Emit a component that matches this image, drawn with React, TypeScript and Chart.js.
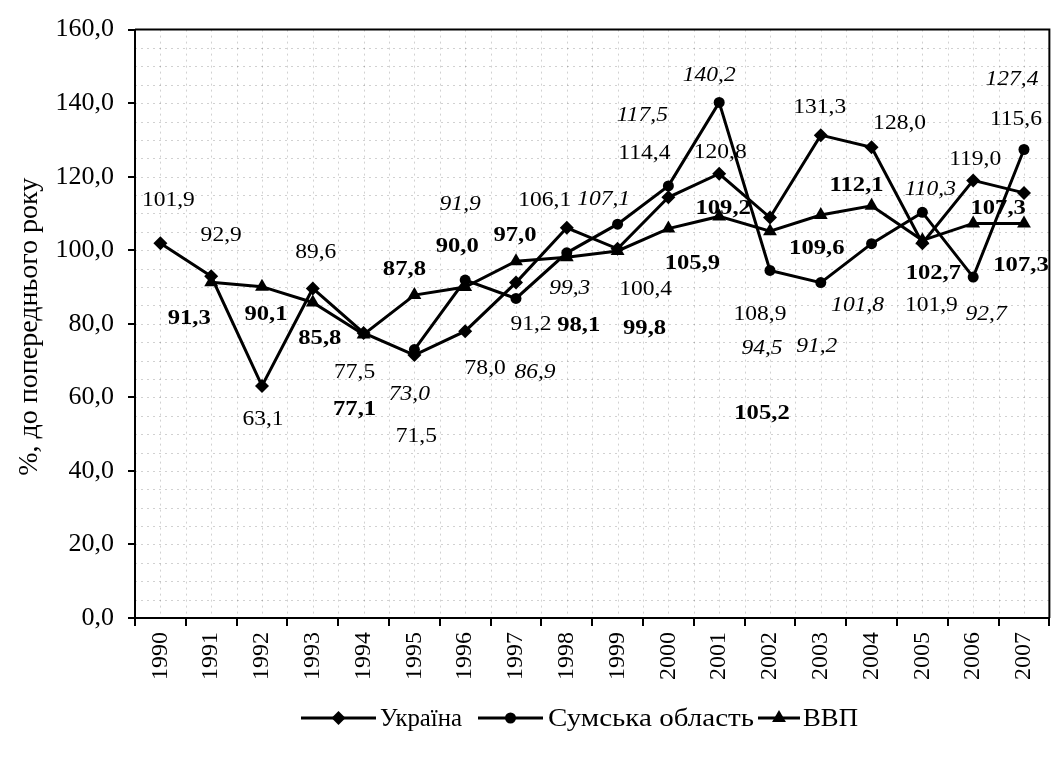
import React, { useEffect, useRef } from 'react';
import { Chart, registerables } from 'chart.js';

Chart.register(...registerables);

// ---------- data ----------
const years = ['1990', '1991', '1992', '1993', '1994', '1995', '1996', '1997', '1998', '1999', '2000', '2001', '2002', '2003', '2004', '2005', '2006', '2007'];
const ukraine = [101.9, 92.9, 63.1, 89.6, 77.5, 71.5, 78.0, 91.2, 106.1, 100.4, 114.4, 120.8, 108.9, 131.3, 128.0, 101.9, 119.0, 115.6];
const sumy = [null, null, null, null, null, 73.0, 91.9, 86.9, 99.3, 107.1, 117.5, 140.2, 94.5, 91.2, 101.8, 110.3, 92.7, 127.4];
const vvp = [null, 91.3, 90.1, 85.8, 77.1, 87.8, 90.0, 97.0, 98.1, 99.8, 105.9, 109.2, 105.2, 109.6, 112.1, 102.7, 107.3, 107.3];
const seriesNames = ['Україна', 'Сумська область', 'ВВП'];
const yAxisTitle = '%, до попереднього року';
const Y_MIN = 0;
const Y_MAX = 160;
const Y_STEP = 20;

// ---------- label placement (offsets from the point, px) ----------
const ukraineLabelOffsets = [[8, -43], [10, -41], [1, 34], [3, -36], [-9, 39], [2, 81], [20, 37], [15, 42], [-22, -27], [28, 41], [-24, -44], [1, -21], [-10, 97], [-1, -28], [28, -24], [9, 62], [2, -21], [-8, -73]];
const sumyLabelOffsets = [null, null, null, null, null, [-5, 45], [-5, -76], [19, 74], [3, 36], [-14, -25], [-26, -70], [-10, -27], [-8, 78], [-4, 64], [-14, 62], [8, -23], [13, 37], [-12, -70]];
const vvpLabelOffsets = [null, [-22, 36], [4, 28], [7, 36], [-9, 75], [-10, -26], [-8, -41], [-1, -26], [12, 68], [27, 77], [24, 35], [4, -8], [-8, 182], [-4, 33], [-15, -20], [11, 33], [25, -15], [-3, 42]];
const labelOffsets = [ukraineLabelOffsets, sumyLabelOffsets, vvpLabelOffsets];
const labelFonts = [
  'normal 400 21px "Liberation Serif", serif',
  'italic 400 21px "Liberation Serif", serif',
  'normal 700 22px "Liberation Serif", serif',
];
const LABEL_SX = 1.12;
const SERIF = '"Liberation Serif", serif';

const fmt = (v: number) => v.toFixed(1).replace('.', ',');

function drawMarker(ctx: CanvasRenderingContext2D, kind: number, x: number, y: number) {
  ctx.beginPath();
  if (kind === 0) {
    const r = 7;
    ctx.moveTo(x, y - r); ctx.lineTo(x + r, y); ctx.lineTo(x, y + r); ctx.lineTo(x - r, y); ctx.closePath();
  } else if (kind === 1) {
    ctx.arc(x, y, 5.5, 0, Math.PI * 2);
  } else {
    const r = 8;
    ctx.moveTo(x, y - r); ctx.lineTo(x + r * 0.87, y + r * 0.5); ctx.lineTo(x - r * 0.87, y + r * 0.5); ctx.closePath();
  }
  ctx.fill();
}

const decorPlugin = {
  id: 'decor',
  beforeDatasetsDraw(chart: any) {
    const { ctx, chartArea: a, scales } = chart;
    ctx.save();
    ctx.strokeStyle = 'rgba(0,0,0,0.18)';
    ctx.lineWidth = 1;
    ctx.setLineDash([2, 4]);
    const n = years.length;
    const half = (a.right - a.left) / n / 2;
    for (let k = 1; k < 2 * n; k++) {
      const x = Math.round(a.left + k * half) + 0.5;
      ctx.beginPath(); ctx.moveTo(x, a.top); ctx.lineTo(x, a.bottom); ctx.stroke();
    }
    for (let v = Y_MIN + 5; v < Y_MAX; v += 5) {
      const y = Math.round(scales.y.getPixelForValue(v)) + 0.5;
      ctx.beginPath(); ctx.moveTo(a.left, y); ctx.lineTo(a.right, y); ctx.stroke();
    }
    ctx.setLineDash([]);
    ctx.strokeStyle = '#000';
    ctx.lineWidth = 2;
    ctx.beginPath();
    ctx.moveTo(a.left, a.top);
    ctx.lineTo(a.right, a.top);
    ctx.lineTo(a.right, a.bottom);
    ctx.stroke();
    ctx.restore();
  },
  afterDatasetsDraw(chart: any) {
    const { ctx } = chart;
    ctx.save();
    ctx.fillStyle = '#000';
    ctx.textAlign = 'center';
    ctx.textBaseline = 'middle';
    chart.data.datasets.forEach((ds: any, di: number) => {
      const meta = chart.getDatasetMeta(di);
      ctx.font = labelFonts[di];
      ds.data.forEach((v: number | null, i: number) => {
        const off = labelOffsets[di][i];
        if (v == null || !off) return;
        const pt = meta.data[i];
        ctx.save();
        ctx.translate(pt.x + off[0], pt.y + off[1]);
        ctx.scale(LABEL_SX, 1);
        ctx.fillText(fmt(v), 0, 0);
        ctx.restore();
      });
    });
    ctx.restore();
  },
  afterDraw(chart: any) {
    const { ctx, chartArea: a } = chart;
    ctx.save();
    ctx.fillStyle = '#000';
    // y axis title
    ctx.font = `28px ${SERIF}`;
    ctx.textAlign = 'center';
    ctx.textBaseline = 'middle';
    ctx.translate(30, (a.top + a.bottom) / 2 + 3);
    ctx.rotate(-Math.PI / 2);
    ctx.fillText(yAxisTitle, 0, 0);
    ctx.restore();

    // legend
    ctx.save();
    ctx.fillStyle = '#000';
    ctx.strokeStyle = '#000';
    ctx.lineWidth = 3;
    ctx.font = `25px ${SERIF}`;
    ctx.textAlign = 'left';
    ctx.textBaseline = 'middle';
    const ly = 718;
    const items = [
      { x0: 301, x1: 376, tx: 380, w: 82 },
      { x0: 478, x1: 543, tx: 548, w: 206 },
      { x0: 758, x1: 800, tx: 803, w: 55 },
    ];
    items.forEach((it, i) => {
      ctx.beginPath(); ctx.moveTo(it.x0, ly); ctx.lineTo(it.x1, ly); ctx.stroke();
      drawMarker(ctx, i, (it.x0 + it.x1) / 2, ly);
      const tw = ctx.measureText(seriesNames[i]).width;
      const sx = Math.max(0.9, Math.min(1.2, it.w / tw));
      ctx.save();
      ctx.translate(it.tx, ly + 1);
      ctx.scale(sx, 1);
      ctx.fillText(seriesNames[i], 0, 0);
      ctx.restore();
    });
    ctx.restore();
  },
};

export default function App() {
  const ref = useRef<HTMLCanvasElement | null>(null);

  useEffect(() => {
    document.body.style.margin = '0';
    const canvas = ref.current;
    if (!canvas) return;
    const common = { borderColor: '#000', backgroundColor: '#000', borderWidth: 3, tension: 0, pointBorderWidth: 0, spanGaps: false };
    const chart = new Chart(canvas, {
      type: 'line',
      data: {
        labels: years,
        datasets: [
          { ...common, label: seriesNames[0], data: ukraine, pointStyle: 'rectRot', pointRadius: 7 },
          { ...common, label: seriesNames[1], data: sumy, pointStyle: 'circle', pointRadius: 5.5 },
          { ...common, label: seriesNames[2], data: vvp, pointStyle: 'triangle', pointRadius: 8 },
        ],
      },
      options: {
        responsive: false,
        animation: false,
        devicePixelRatio: 1,
        layout: { padding: { top: 26, right: 2, bottom: 0, left: 0 } },
        plugins: { legend: { display: false }, tooltip: { enabled: false }, title: { display: false } },
        scales: {
          x: {
            type: 'category',
            offset: true,
            grid: { display: true, offset: true, drawOnChartArea: false, drawTicks: true, tickLength: 8, color: '#000', lineWidth: 2 },
            border: { display: true, color: '#000', width: 2 },
            ticks: { color: '#000', font: { family: SERIF, size: 24 }, minRotation: 90, maxRotation: 90, padding: 6, autoSkip: false },
            afterFit: (s: any) => { s.height = 141; },
          },
          y: {
            min: Y_MIN,
            max: Y_MAX,
            ticks: { stepSize: Y_STEP, color: '#000', font: { family: SERIF, size: 26 }, padding: 14, callback: (v: any) => fmt(Number(v)) },
            grid: { display: true, drawOnChartArea: false, drawTicks: true, tickLength: 7, color: '#000', lineWidth: 2 },
            border: { display: true, color: '#000', width: 2 },
            afterFit: (s: any) => { s.width = 135; },
          },
        },
      },
      plugins: [decorPlugin],
    } as any);
    return () => chart.destroy();
  }, []);

  return (
    <div style={{ width: 1059, height: 759, overflow: 'hidden', background: '#fff' }}>
      <canvas ref={ref} width={1059} height={759} style={{ display: 'block' }} />
    </div>
  );
}
